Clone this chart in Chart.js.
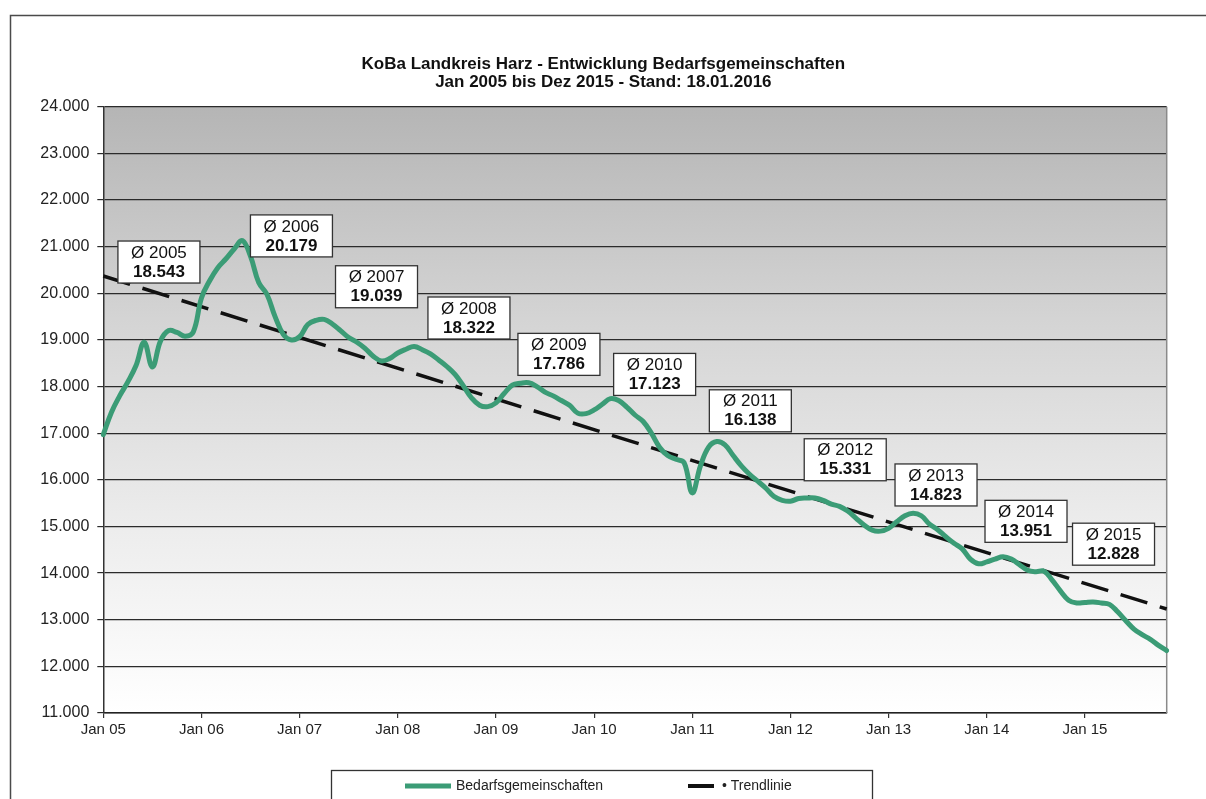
<!DOCTYPE html>
<html lang="de">
<head>
<meta charset="utf-8">
<title>KoBa Landkreis Harz - Entwicklung Bedarfsgemeinschaften</title>
<script src="https://cdn.jsdelivr.net/npm/chart.js@4"></script>
<style>
  html, body { margin: 0; padding: 0; background: #fff; }
  #wrap { width: 1206px; height: 799px; }
</style>
</head>
<body>
<div id="wrap"><canvas id="grafico" width="1206" height="799"></canvas></div>
<script>
// Monate und Jahre fuer die Achse (Jan 05 bis Nov 15)
const monate = ['Jan', 'Feb', 'Mrz', 'Apr', 'Mai', 'Jun', 'Jul', 'Aug', 'Sep', 'Okt', 'Nov', 'Dez']
const jahre = ['05', '06', '07', '08', '09', '10', '11', '12', '13', '14', '15']

// Bedarfsgemeinschaften je Monat
const bedarfsgemeinschaften = [
  16970, 17450, 17800, 18100, 18450, 18950, 18420, 18980, 19200, 19160, 19080, 19170,
  19900, 20270, 20550, 20740, 20950, 21130, 20790, 20230, 19980, 19500, 19120, 19000,
  19070, 19330, 19420, 19440, 19340, 19200, 19050, 18950, 18820, 18650, 18550, 18600,
  18720, 18800, 18860, 18790, 18700, 18570, 18430, 18260, 18020, 17760, 17600, 17570,
  17650, 17850, 18030, 18070, 18080, 18000, 17880, 17800, 17700, 17600, 17430, 17420,
  17500, 17620, 17740, 17700, 17560, 17390, 17250, 17000, 16700, 16520, 16440, 16370,
  15720, 16300, 16700, 16820, 16750, 16520, 16300, 16120, 15970, 15820, 15640, 15560,
  15540, 15600, 15610, 15610, 15560, 15480, 15430, 15330, 15180, 15030, 14920, 14900,
  14960, 15100, 15230, 15285, 15230, 15050, 14930, 14780, 14640, 14520, 14300, 14200,
  14240, 14300, 14350, 14300, 14180, 14060, 14030, 14040, 13850, 13620, 13420, 13360,
  13370, 13380, 13360, 13330, 13170, 12980, 12800, 12680, 12580, 12450, 12340
]

// Trendlinie: Wert am ersten und am letzten Monat
const trendlinie = [20370, 13230]

// Jahresdurchschnitte
const durchschnittJahre = ['2005', '2006', '2007', '2008', '2009', '2010', '2011', '2012', '2013', '2014', '2015']
const durchschnittWerte = [18543, 20179, 19039, 18322, 17786, 17123, 16138, 15331, 14823, 13951, 12828]

// wo die Kaesten stehen (Monatsindex, Wert auf der y-Achse)
const kastenMonat = [6.8, 23.0, 33.4, 44.7, 55.7, 67.4, 79.1, 90.7, 101.8, 112.8, 123.5]
const kastenWert = [20670, 21230, 20140, 19470, 18690, 18260, 17480, 16430, 15890, 15110, 14620]

let monatsLabels = []
jahre.forEach((j) => {
  monate.forEach((m) => {
    monatsLabels.push(m + ' ' + j)
  })
})
monatsLabels = monatsLabels.slice(0, bedarfsgemeinschaften.length)

let trendDaten = bedarfsgemeinschaften.map(() => null)
trendDaten[0] = trendlinie[0]
trendDaten[trendDaten.length - 1] = trendlinie[1]

const schrift = 'Liberation Sans, Arial, sans-serif'

function tausender(v) {
  return Math.round(v).toString().replace(/\B(?=(\d{3})+(?!\d))/g, '.')
}

// Hintergrund, Rahmen und Verlauf im Diagrammbereich
const hintergrund = {
  id: 'hintergrund',
  beforeDraw(chart) {
    const ctx = chart.ctx
    const a = chart.chartArea
    ctx.save()
    ctx.fillStyle = '#ffffff'
    ctx.fillRect(0, 0, chart.width, chart.height)
    ctx.strokeStyle = '#4a4a4a'
    ctx.lineWidth = 1.5
    ctx.strokeRect(10.5, 15.5, chart.width + 20, chart.height + 20)
    const g = ctx.createLinearGradient(0, a.top, 0, a.bottom)
    g.addColorStop(0, '#b5b5b5')
    g.addColorStop(0.35, '#d4d4d4')
    g.addColorStop(0.7, '#ededed')
    g.addColorStop(1, '#ffffff')
    ctx.fillStyle = g
    ctx.fillRect(a.left, a.top, a.right - a.left, a.bottom - a.top)
    ctx.restore()
  },
  beforeDatasetsDraw(chart) {
    const ctx = chart.ctx
    const a = chart.chartArea
    ctx.save()
    ctx.strokeStyle = '#8a8a8a'
    ctx.lineWidth = 1.5
    ctx.beginPath()
    ctx.moveTo(a.right, a.top)
    ctx.lineTo(a.right, a.bottom)
    ctx.stroke()
    ctx.restore()
  }
}

// Kaesten mit den Jahresdurchschnitten
const kaesten = {
  id: 'kaesten',
  afterDatasetsDraw(chart) {
    const ctx = chart.ctx
    const xs = chart.scales.x
    const ys = chart.scales.y
    ctx.save()
    durchschnittJahre.forEach((jahr, i) => {
      const cx = xs.getPixelForValue(kastenMonat[i])
      const cy = ys.getPixelForValue(kastenWert[i])
      const w = 82, h = 42
      ctx.fillStyle = '#ffffff'
      ctx.fillRect(cx - w / 2, cy - h / 2, w, h)
      ctx.strokeStyle = '#333333'
      ctx.lineWidth = 1.3
      ctx.strokeRect(cx - w / 2, cy - h / 2, w, h)
      ctx.fillStyle = '#111111'
      ctx.textAlign = 'center'
      ctx.textBaseline = 'middle'
      ctx.font = '17px ' + schrift
      ctx.fillText('Ø ' + jahr, cx, cy - 9)
      ctx.font = 'bold 17px ' + schrift
      ctx.fillText(tausender(durchschnittWerte[i]), cx, cy + 10)
    })
    ctx.restore()
  }
}

// Legende unten im Kasten
const legende = {
  id: 'legende',
  afterDraw(chart) {
    const ctx = chart.ctx
    const ds = chart.data.datasets
    ctx.save()
    ctx.fillStyle = '#ffffff'
    ctx.fillRect(331, 770, 541, 60)
    ctx.strokeStyle = '#333333'
    ctx.lineWidth = 1.3
    ctx.strokeRect(331.5, 770.5, 541, 60)

    ctx.lineCap = 'butt'
    ctx.strokeStyle = ds[0].borderColor
    ctx.lineWidth = 5
    ctx.beginPath()
    ctx.moveTo(405, 786)
    ctx.lineTo(451, 786)
    ctx.stroke()

    ctx.strokeStyle = ds[1].borderColor
    ctx.lineWidth = 4
    ctx.beginPath()
    ctx.moveTo(688, 786)
    ctx.lineTo(714, 786)
    ctx.stroke()

    ctx.fillStyle = '#222222'
    ctx.font = '14px ' + schrift
    ctx.textAlign = 'left'
    ctx.textBaseline = 'middle'
    ctx.fillText(ds[0].label, 456, 786)
    ctx.fillText('• ' + ds[1].label, 722, 786)
    ctx.restore()
  }
}

new Chart(document.getElementById('grafico'), {
  type: 'line',
  data: {
    labels: monatsLabels,
    datasets: [
      {
        label: 'Bedarfsgemeinschaften',
        data: bedarfsgemeinschaften,
        borderColor: '#3b9c76',
        borderWidth: 5,
        pointRadius: 0,
        tension: 0.4,
        borderCapStyle: 'round',
        borderJoinStyle: 'round',
        fill: false
      },
      {
        label: 'Trendlinie',
        data: trendDaten,
        borderColor: '#111111',
        borderWidth: 3.5,
        borderDash: [28, 13],
        pointRadius: 0,
        spanGaps: true,
        tension: 0,
        fill: false
      }
    ]
  },
  options: {
    responsive: false,
    animation: false,
    devicePixelRatio: 1,
    layout: {
      padding: { top: 0, right: 39.3, bottom: 56, left: 40 }
    },
    plugins: {
      legend: { display: false },
      tooltip: { enabled: false },
      title: {
        display: true,
        text: [
          'KoBa Landkreis Harz - Entwicklung Bedarfsgemeinschaften',
          'Jan 2005 bis Dez 2015 - Stand: 18.01.2016'
        ],
        color: '#111111',
        font: { family: schrift, size: 17, weight: 'bold', lineHeight: 1.06 },
        padding: { top: 55, bottom: 15.7 }
      }
    },
    scales: {
      x: {
        type: 'category',
        grid: {
          drawOnChartArea: false,
          tickLength: 5,
          lineWidth: 1.2,
          color: (c) => (c.index % 12 === 0 ? '#333333' : 'rgba(0,0,0,0)')
        },
        border: { color: '#222222', width: 1.5 },
        ticks: {
          autoSkip: false,
          maxRotation: 0,
          minRotation: 0,
          padding: 3,
          color: '#222222',
          font: { family: schrift, size: 15 },
          callback: (v, i) => (i % 12 === 0 ? monatsLabels[i] : '')
        },
        afterFit: (s) => { s.height = 30 }
      },
      y: {
        min: 11000,
        max: 24000,
        grid: {
          color: '#2b2b2b',
          lineWidth: 1.2,
          tickLength: 6
        },
        border: { color: '#333333', width: 1.5 },
        ticks: {
          stepSize: 1000,
          padding: 8,
          color: '#222222',
          font: { family: schrift, size: 16 },
          callback: (v) => tausender(v)
        },
        afterFit: (s) => { s.width = 63.3 }
      }
    }
  },
  plugins: [hintergrund, kaesten, legende]
})
</script>
</body>
</html>
